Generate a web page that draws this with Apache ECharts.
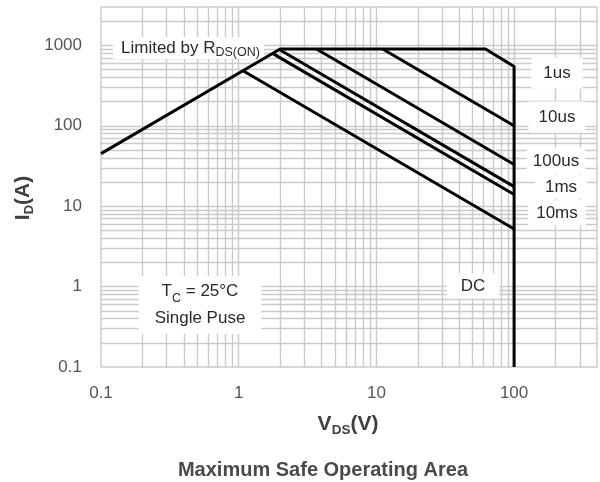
<!DOCTYPE html>
<html>
<head>
<meta charset="utf-8">
<script src="https://cdn.jsdelivr.net/npm/echarts@6/dist/echarts.min.js"></script>
<style>
  html, body { margin: 0; padding: 0; background: #fff; }
  #chart { width: 600px; height: 482px; }
</style>
</head>
<body>
<div id="chart"></div>
<script>
// Safe operating area outline: R_DS(on) limit, package current limit,
// 1us pulse edge and the V_DS(max) wall at 100 V.
const boundaryV = [0.1, 2, 62, 100, 100];
const boundaryI = [45, 900, 900, 545, 0.1];

// Pulse-width limits, each running from the outline down to V_DS = 100 V.
const pulseNames  = ['10us', '100us', '1ms', '10ms', 'DC'];
const pulseStartV = [11.1, 3.67, 1.97, 1.76, 1.075];
const pulseStartI = [900, 900, 887, 794, 484];
const pulseEndV   = [100, 100, 100, 100, 100];
const pulseEndI   = [100, 33, 17.5, 14, 5.2];

// Axis ranges and the decade labels printed on them.
const xRange = [0.1, 400];
const yRange = [0.1, 3000];
const xTickLabels = ['0.1', '1', '10', '100'];
const yTickLabels = ['0.1', '1', '10', '100', '1000'];

const FONT = '"Liberation Sans", Arial, sans-serif';
const GRID_COLOR = '#cacaca';

// 1..9 x 10^n log-grid positions strictly inside a range.
function logGrid(min, max) {
  const out = [];
  for (let e = Math.floor(Math.log10(min)); Math.pow(10, e) < max; e++) {
    for (let k = 1; k <= 9; k++) {
      const v = +(k * Math.pow(10, e)).toPrecision(6);
      if (v > min && v < max) out.push(v);
    }
  }
  return out;
}

function decadeLabel(labels) {
  return function (value) {
    const e = Math.log10(value);
    if (Math.abs(e - Math.round(e)) > 1e-6) return '';
    const hit = labels.find(function (s) { return Math.abs(Math.log10(parseFloat(s)) - e) < 1e-6; });
    return hit || '';
  };
}

const gridLines = logGrid(xRange[0], xRange[1]).map(function (v) { return { xAxis: v }; })
  .concat(logGrid(yRange[0], yRange[1]).map(function (v) { return { yAxis: v }; }));

const lineStyle = { color: '#000', width: 3 };

const series = [{
  type: 'line',
  data: [],
  silent: true,
  z: 1,
  markLine: {
    z: 1,
    silent: true,
    symbol: 'none',
    animation: false,
    label: { show: false },
    emphasis: { disabled: true },
    lineStyle: { color: GRID_COLOR, width: 1.4, type: 'solid' },
    data: gridLines
  }
}, {
  name: 'SOA',
  type: 'line',
  z: 6,
  symbol: 'none',
  animation: false,
  lineStyle: lineStyle,
  data: boundaryV.map(function (v, i) { return [v, boundaryI[i]]; })
}];

pulseNames.forEach(function (name, i) {
  series.push({
    name: name,
    type: 'line',
    z: 6,
    symbol: 'none',
    animation: false,
    lineStyle: lineStyle,
    data: [[pulseStartV[i], pulseStartI[i]], [pulseEndV[i], pulseEndI[i]]]
  });
});

// Boxed annotations sit on white so the grid does not run through them.
function note(x, y, text, rich, pad, align) {
  return {
    type: 'text',
    x: x, y: y, z: 4,
    silent: true,
    style: {
      text: text,
      rich: rich,
      fill: '#2a2a2a',
      font: '17px ' + FONT,
      align: align || 'center',
      verticalAlign: 'middle',
      backgroundColor: '#fff',
      padding: pad || [4, 8]
    }
  };
}

const subRich = {
  m: { fontSize: 17, fontFamily: FONT, lineHeight: 22, fill: '#2a2a2a' },
  s: { fontSize: 12.5, fontFamily: FONT, lineHeight: 12, verticalAlign: 'bottom', fill: '#2a2a2a' }
};

const chart = echarts.init(document.getElementById('chart'), null, { renderer: 'canvas' });

chart.setOption({
  animation: false,
  backgroundColor: '#fff',
  grid: {
    left: 101, right: 3, top: 7, bottom: 115,
    show: true,
    backgroundColor: '#fff',
    borderColor: GRID_COLOR,
    borderWidth: 1.4
  },
  xAxis: {
    type: 'log',
    logBase: 10,
    min: xRange[0],
    max: xRange[1],
    axisLine: { show: false },
    axisTick: { show: false },
    splitLine: { show: false },
    axisLabel: {
      margin: 18,
      color: '#555',
      fontSize: 17,
      fontFamily: FONT,
      formatter: decadeLabel(xTickLabels)
    }
  },
  yAxis: {
    type: 'log',
    logBase: 10,
    min: yRange[0],
    max: yRange[1],
    axisLine: { show: false },
    axisTick: { show: false },
    splitLine: { show: false },
    axisLabel: {
      margin: 19,
      color: '#555',
      fontSize: 17,
      fontFamily: FONT,
      formatter: decadeLabel(yTickLabels)
    }
  },
  series: series,
  graphic: [
    note(113, 48, '{m|Limited by R}{s|DS(ON)}', subRich, [0, 4, 0, 8], 'left'),
    note(557, 73, '1us', null, [7, 12]),
    note(557, 117, '10us', null, [7, 10]),
    note(556, 161, '100us', null, [5, 6]),
    note(561, 187, '1ms', null, [3, 10]),
    note(557, 213, '10ms', null, [4, 8]),
    note(473, 286, 'DC', null, [4, 14]),
    note(200, 305, '{m|T}{s|C}{m| = 25°C}\n{m|Single Puse}', {
      m: { fontSize: 17, fontFamily: FONT, lineHeight: 27, fill: '#2a2a2a' },
      s: { fontSize: 12.5, fontFamily: FONT, lineHeight: 12, verticalAlign: 'bottom', fill: '#2a2a2a' }
    }, [2, 16]),
    {
      type: 'text',
      x: 23, y: 198,
      rotation: Math.PI / 2,
      silent: true,
      style: {
        text: '{m|I}{s|D}{m|(A)}',
        rich: {
          m: { fontSize: 21, fontWeight: 'bold', fontFamily: FONT, lineHeight: 26, fill: '#404040' },
          s: { fontSize: 13, fontWeight: 'bold', fontFamily: FONT, lineHeight: 16, verticalAlign: 'bottom', fill: '#404040' }
        },
        align: 'center',
        verticalAlign: 'middle'
      }
    },
    {
      type: 'text',
      x: 348, y: 424,
      silent: true,
      style: {
        text: '{m|V}{s|DS}{m|(V)}',
        rich: {
          m: { fontSize: 21, fontWeight: 'bold', fontFamily: FONT, lineHeight: 26, fill: '#404040' },
          s: { fontSize: 13.5, fontWeight: 'bold', fontFamily: FONT, lineHeight: 18, verticalAlign: 'bottom', fill: '#404040' }
        },
        align: 'center',
        verticalAlign: 'middle'
      }
    },
    {
      type: 'text',
      x: 323, y: 470,
      silent: true,
      style: {
        text: 'Maximum Safe Operating Area',
        font: 'bold 20px ' + FONT,
        fill: '#4a4a4a',
        align: 'center',
        verticalAlign: 'middle'
      }
    }
  ]
});
</script>
</body>
</html>
